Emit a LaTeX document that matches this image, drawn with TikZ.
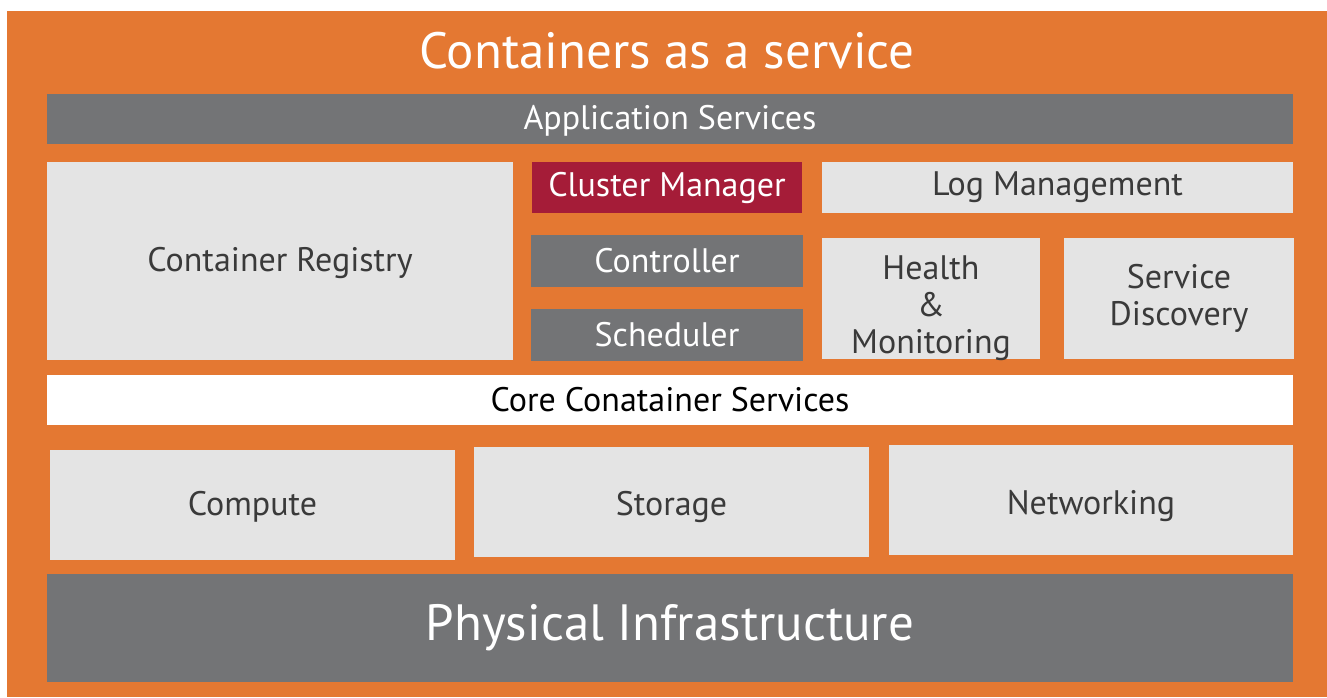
\documentclass[tikz,border=0pt]{standalone}
\usepackage{fontspec}
\setmainfont{PT Sans}

\begin{document}
\begin{tikzpicture}
[x=1pt,y=-1pt,
% Styles
box/.style={rectangle,inner sep=0pt,outer sep=0pt,align=center,
  font=\fontsize{34}{37}\selectfont},
dark box/.style={box,fill=boxgray,text=white},
light box/.style={box,fill=boxlight,text=textdark},
big text/.style={font=\fontsize{51}{60}\selectfont}]
% Colors
\definecolor{bgorange}{RGB}{228,120,50}
\definecolor{boxgray}{RGB}{115,116,118}
\definecolor{boxlight}{RGB}{228,228,228}
\definecolor{clustercolor}{RGB}{165,28,56}
\definecolor{textdark}{RGB}{58,58,58}
% The graphic
\useasboundingbox[fill=white] (0,0) rectangle (1327,697);
\fill[bgorange] (7,11) rectangle (1327,697);
\node[box,big text,text=white] (title) at (667,51) {Containers as a service};
\node[dark box,minimum width=1246,minimum height=50,text height=27] (appsvc) at (670,119) {Application Services};
% middle part
\node[light box,minimum width=466,minimum height=198,text height=28] (registry) at (280,261) {Container Registry};
\node[box,fill=clustercolor,text=white,minimum width=270,minimum height=51] (cluster) at (667,187.5) {Cluster Manager};
\node[dark box,minimum width=272,minimum height=52] (controller) at (667,261) {Controller};
\node[dark box,minimum width=272,minimum height=52] (scheduler) at (667,335) {Scheduler};
\node[light box,minimum width=471,minimum height=51] (logmgmt) at (1057.5,187.5) {Log Management};
\node[light box,minimum width=218,minimum height=121,text height=110,text depth=0] (health) at (931,298.5) {Health\\\&\\Monitoring};
\node[light box,minimum width=230,minimum height=121] (discovery) at (1179,298.5) {Service\\Discovery};
\node[box,fill=white,text=black,minimum width=1246,minimum height=50] (core) at (670,400) {Core Conatainer Services};
% resources
\node[light box,minimum width=405,minimum height=110,text height=28] (compute) at (252.5,505) {Compute};
\node[light box,minimum width=395,minimum height=110,text height=34] (storage) at (671.5,502) {Storage};
\node[light box,minimum width=404,minimum height=110,text height=36] (networking) at (1091,500) {Networking};
\node[dark box,big text,minimum width=1246,minimum height=108] (physical) at (670,628) {Physical Infrastructure};
\end{tikzpicture}
\end{document}
